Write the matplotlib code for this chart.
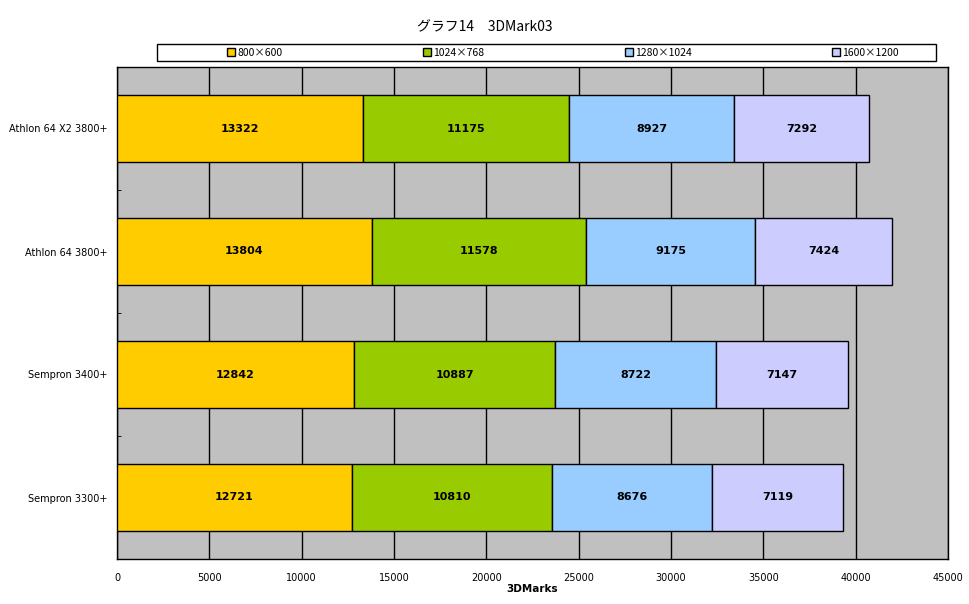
import matplotlib
matplotlib.use('Agg')
import matplotlib.pyplot as plt
from matplotlib.patches import Rectangle
import numpy as np

plt.rcParams['font.family'] = ['Noto Sans CJK JP', 'DejaVu Sans']

cpus = ['Athlon 64 X2 3800+', 'Athlon 64 3800+', 'Sempron 3400+', 'Sempron 3300+']
resolutions = ['800×600', '1024×768', '1280×1024', '1600×1200']
r800 = [13322, 13804, 12842, 12721]
r1024 = [11175, 11578, 10887, 10810]
r1280 = [8927, 9175, 8722, 8676]
r1600 = [7292, 7424, 7147, 7119]
colors = ['#FFCC00', '#99CC00', '#99CCFF', '#CCCCFF']

fig = plt.figure(figsize=(9.7, 6.04), dpi=100)
ax = fig.add_axes([117/970, 45/604, (948-117)/970, (559-67)/604])
ax.set_facecolor('#C0C0C0')

y = np.arange(len(cpus))
left = np.zeros(len(cpus))
handles = []
for vals, col, lab in zip([r800, r1024, r1280, r1600], colors, resolutions):
    bars = ax.barh(y, vals, left=left, height=0.55, color=col, edgecolor='black',
                   linewidth=1, label=lab, zorder=3)
    for b, v in zip(bars, vals):
        ax.text(b.get_x() + b.get_width()/2, b.get_y() + b.get_height()/2, str(v),
                ha='center', va='center', fontsize=8, fontweight='bold',
                family='DejaVu Sans', zorder=4)
    handles.append(bars)
    left += np.array(vals)

ax.set_xlim(0, 45000)
ax.set_xticks(np.arange(0, 45001, 5000))
ax.set_ylim(3.5, -0.5)
ax.set_yticks(y)
ax.set_yticklabels(cpus, fontsize=7, family='DejaVu Sans')
ax.set_yticks(np.arange(-0.5, 3.6, 1), minor=True)
ax.tick_params(axis='y', which='major', length=0, pad=7)
ax.tick_params(axis='y', which='minor', length=3, direction='in', color='black')
ax.tick_params(axis='x', length=0, labelsize=7, pad=10)
for t in ax.get_xticklabels():
    t.set_family('DejaVu Sans')
ax.grid(axis='x', color='black', linewidth=1, zorder=0)
ax.set_axisbelow(True)
for s in ax.spines.values():
    s.set_color('black')
    s.set_linewidth(1)
ax.set_xlabel('3DMarks', fontsize=7.5, fontweight='bold', family='DejaVu Sans', labelpad=1)

fig.text(0.5, 1 - 27/604, 'グラフ14　3DMark03', ha='center', va='center', fontsize=10)

# legend box
fig.patches.append(Rectangle((157/970, 1 - 61/604), (936-157)/970, 17/604,
                             transform=fig.transFigure, facecolor='white',
                             edgecolor='black', linewidth=1))
leg = fig.legend(handles=handles, labels=resolutions, loc='center',
                 bbox_to_anchor=(563/970, 1 - 52.5/604),
                 ncol=4, fontsize=7.5, frameon=False,
                 handlelength=0.75, handleheight=0.75, handletextpad=0.2,
                 borderpad=0, borderaxespad=0, columnspacing=13.5)

fig.savefig('out.png', dpi=100)
